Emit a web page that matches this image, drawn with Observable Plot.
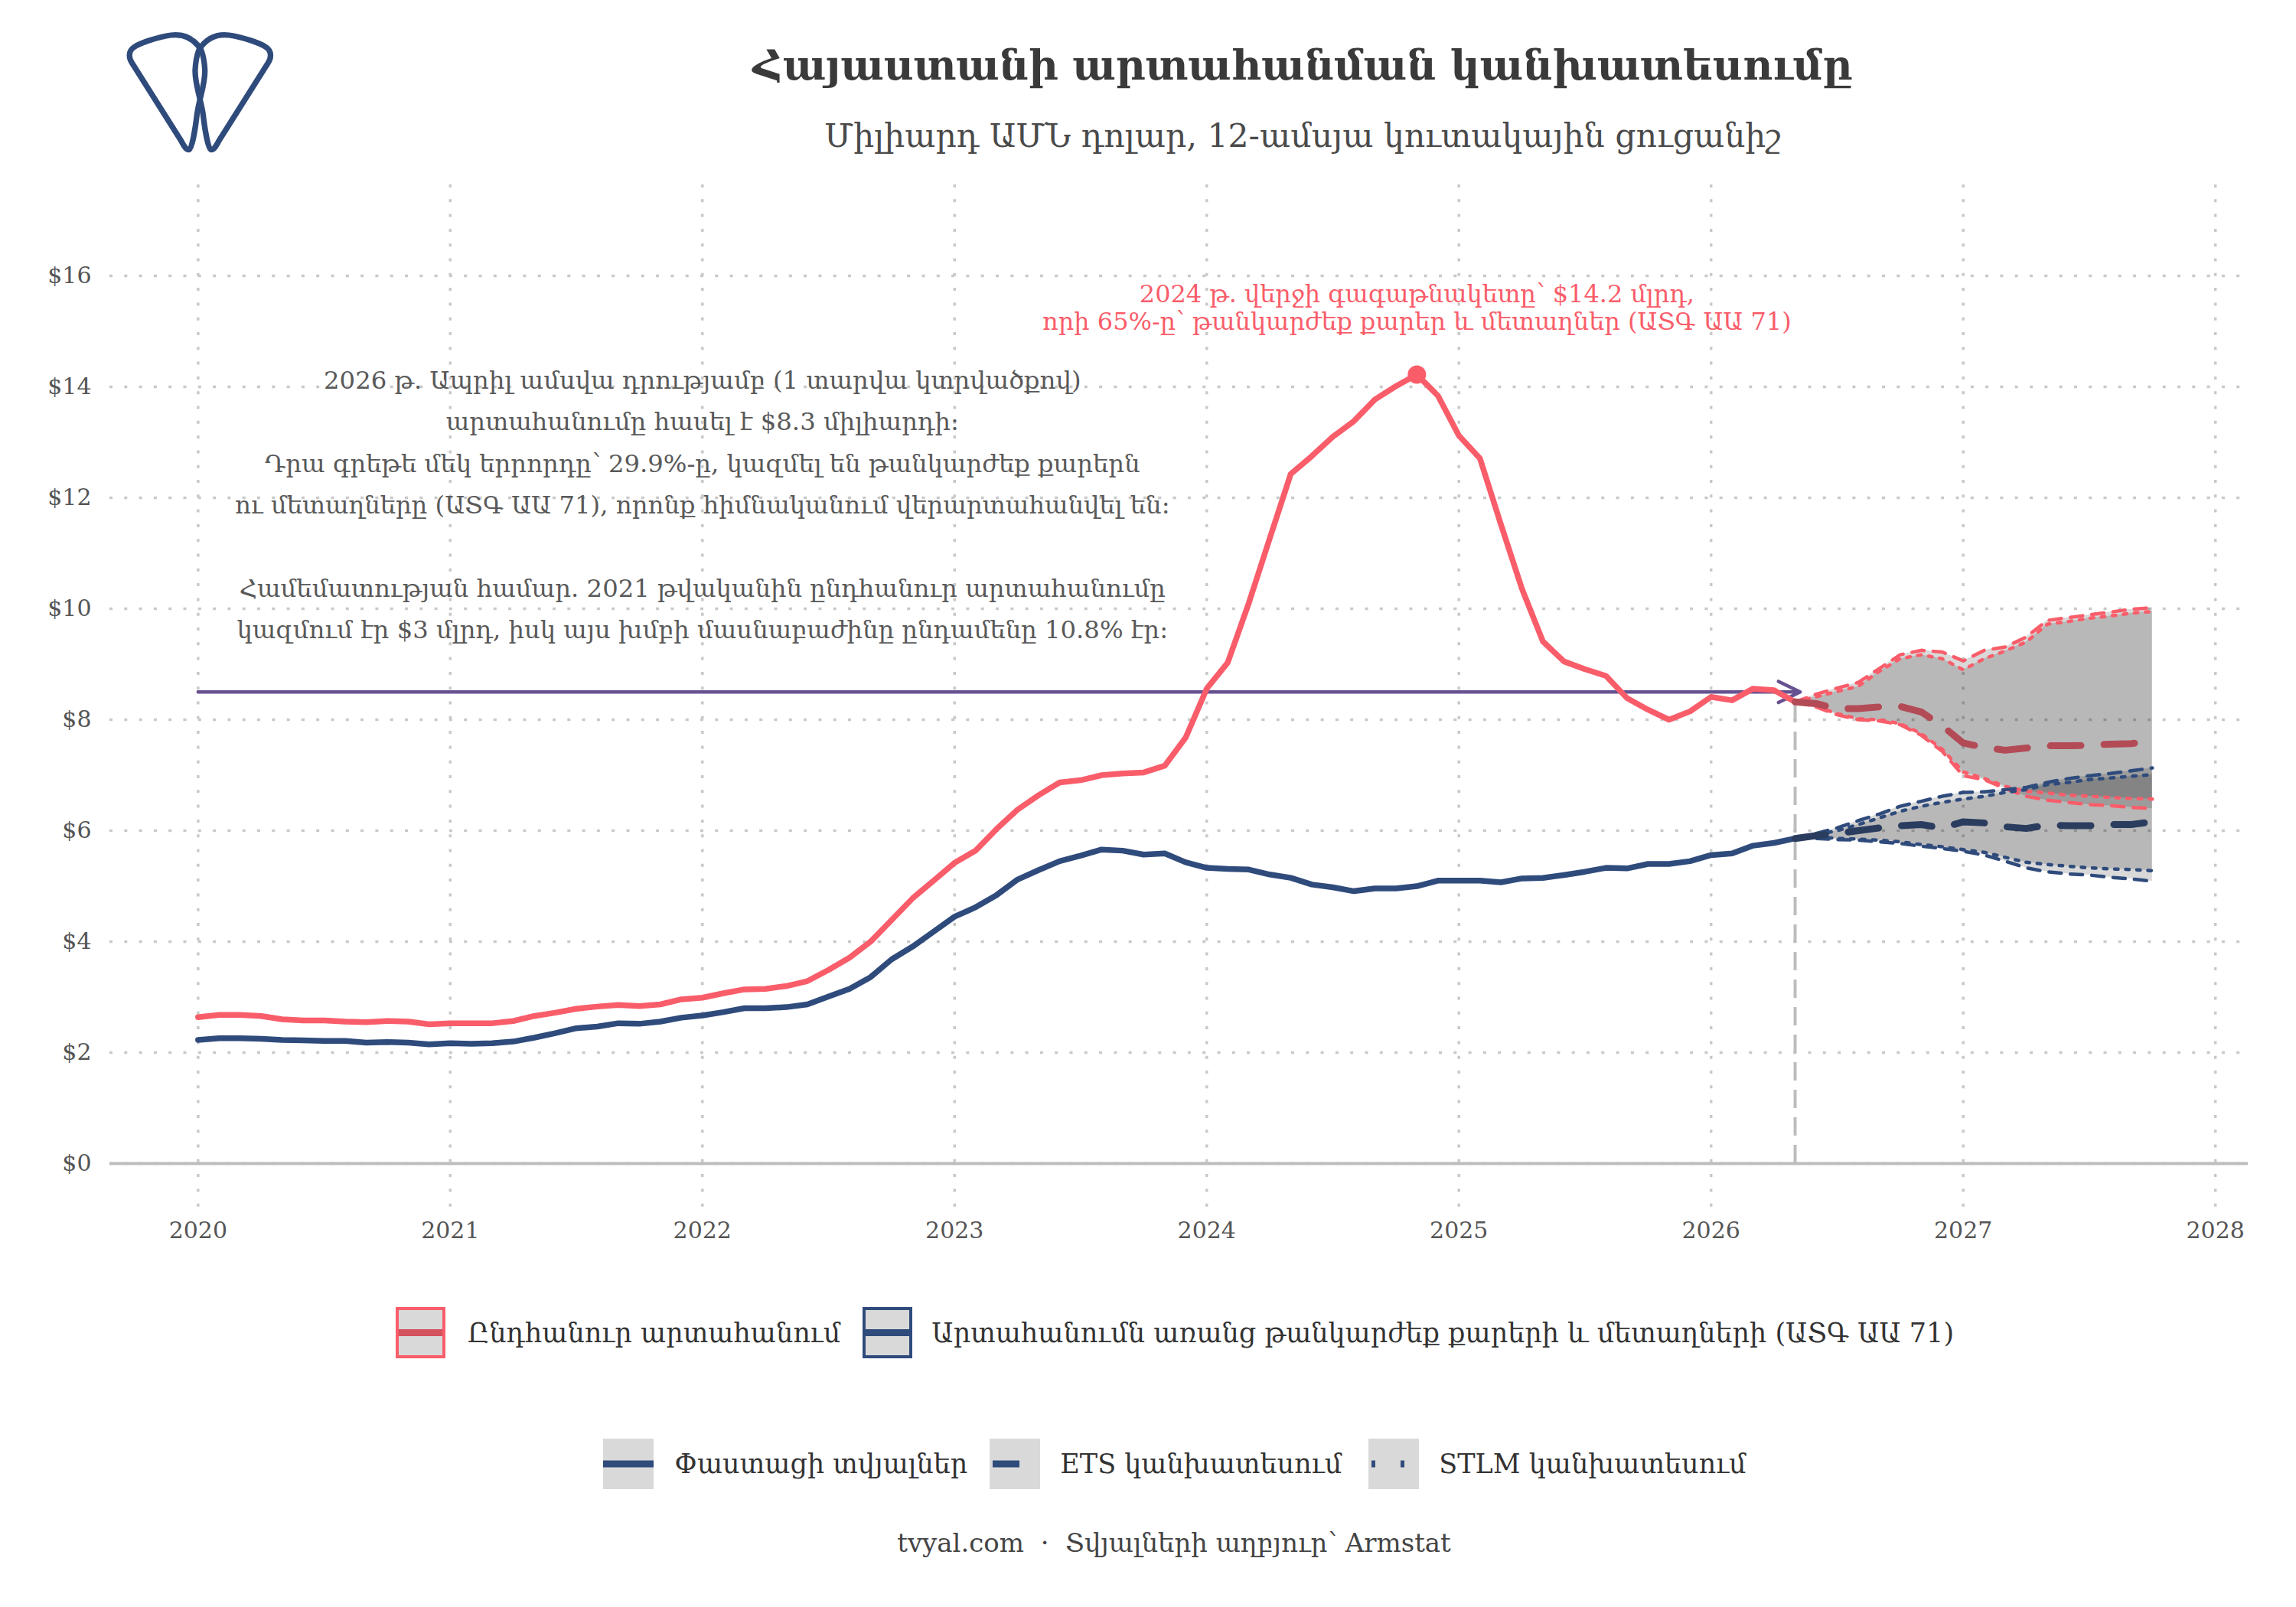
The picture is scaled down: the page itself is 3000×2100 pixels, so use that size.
<!DOCTYPE html>
<html>
<head>
<meta charset="utf-8">
<script src="https://cdn.jsdelivr.net/npm/d3@7"></script>
<script src="https://cdn.jsdelivr.net/npm/@observablehq/plot@0.6"></script>
<style>
  html, body { margin: 0; padding: 0; background: #fff; }
  #page { position: relative; width: 3000px; height: 2100px; overflow: hidden; background: #fff; font-family: "DejaVu Serif", serif; }
  #chart { position: absolute; left: 0; top: 0; }
  .abs { position: absolute; white-space: pre; }
  #title { left: 1702px; top: 50px; transform: translateX(-50%); font-size: 53.5px; font-weight: bold; color: #3a3a3a; line-height: 72px; }
  #subtitle { left: 1702px; top: 150px; transform: translateX(-50%); font-size: 42.5px; color: #4a4a4a; line-height: 56px; }
  .legrow { position: absolute; left: 35px; width: 3000px; display: flex; justify-content: center; align-items: center; }
  .legrow .lab { font-size: 35px; color: #333; white-space: pre; }
  #caption { left: 1534px; top: 1993px; transform: translateX(-50%); font-size: 34px; color: #444; line-height: 46px; }
  svg.key { display: block; }
</style>
</head>
<body>
<div id="page">
  <div id="chart"></div>
  <svg class="abs" style="left:140px;top:20px" width="260" height="200" viewBox="0 0 260 200">
    <g fill="none" stroke="#2f4b7c" stroke-width="7.3" stroke-linejoin="round">
      <path id="lp" d="M122.7,45 C113.3,30 100,24 83.3,26 C66.7,28.3 43.3,36 35,41.7 C27.3,46.7 28.3,56 32.3,62 L96.7,164 C100.7,171.7 104,176.7 107.3,175.3 C110.7,173.3 115,150 117.3,130 C120,110 128.3,90 127.7,71.7 C127,56.7 124,48.3 122.7,45 Z"/>
      <use href="#lp" transform="translate(242.7,0) scale(-1,1)"/>
    </g>
  </svg>
  <div id="title" class="abs"></div>
  <div id="subtitle" class="abs"></div>
  <div id="leg1" class="legrow" style="top:1708px;height:67px"></div>
  <div id="leg2" class="legrow" style="top:1880px;height:66px"></div>
  <div id="caption" class="abs"></div>
</div>
<script>
// ---------------- DATA ----------------
const titleText = "Հայաստանի արտահանման կանխատեսումը";
const subtitleText = "Միլիարդ ԱՄՆ դոլար, 12-ամսյա կուտակային ցուցանիշ";
const captionText = "tvyal.com  ·  Տվյալների աղբյուր՝ Armstat";

const startYear = 2020; // first monthly observation: Jan 2020
// Total exports, 12-month rolling sum, bn USD (monthly, Jan 2020 .. 2026 latest)
const actualTotal = [
  2.64,2.68,2.68,2.66,2.60,2.58,2.58,2.56,2.55,2.57,2.56,2.51,
  2.53,2.53,2.53,2.57,2.66,2.72,2.79,2.83,2.86,2.84,2.87,2.96,
  2.99,3.07,3.14,3.15,3.20,3.29,3.49,3.71,4.00,4.39,4.78,5.10,
  5.42,5.64,6.03,6.38,6.64,6.87,6.91,7.00,7.03,7.05,7.17,7.68,
  8.56,9.03,10.10,11.27,12.43,12.75,13.10,13.38,13.77,14.01,14.22,13.84,
  13.12,12.71,11.52,10.36,9.41,9.05,8.91,8.79,8.39,8.18,8.00,8.15,
  8.41,8.35,8.56,8.53,8.32
];
// Exports excluding precious stones & metals (HS 71)
const actualCore = [
  2.23,2.26,2.26,2.25,2.23,2.22,2.21,2.21,2.18,2.19,2.18,2.15,
  2.17,2.16,2.17,2.20,2.27,2.35,2.44,2.47,2.53,2.52,2.56,2.63,
  2.67,2.73,2.80,2.80,2.82,2.87,3.01,3.15,3.36,3.68,3.91,4.18,
  4.45,4.62,4.84,5.12,5.29,5.45,5.55,5.66,5.64,5.57,5.59,5.43,
  5.33,5.31,5.30,5.21,5.15,5.03,4.98,4.91,4.96,4.96,5.00,5.10,
  5.10,5.10,5.07,5.14,5.15,5.20,5.26,5.33,5.32,5.40,5.40,5.45,
  5.56,5.59,5.73,5.78,5.86
];
// Forecasts (first value = last observation), monthly
const fcTotalEts     = [8.32,8.29,8.20,8.20,8.23,8.24,8.14,7.89,7.58,7.50,7.45,7.49,7.53,7.53,7.54,7.56,7.57,7.61];
const fcTotalEtsLo   = [8.32,8.23,8.09,8.00,7.98,7.91,7.72,7.43,6.99,6.92,6.76,6.62,6.55,6.51,6.47,6.45,6.42,6.40];
const fcTotalEtsHi   = [8.32,8.46,8.57,8.67,8.92,9.17,9.25,9.22,9.06,9.25,9.31,9.49,9.79,9.84,9.89,9.94,9.99,10.02];
const fcTotalStlmLo  = [8.32,8.24,8.11,8.02,8.00,7.93,7.75,7.47,7.06,6.94,6.80,6.71,6.68,6.64,6.62,6.60,6.58,6.57];
const fcTotalStlmHi  = [8.32,8.41,8.51,8.60,8.87,9.10,9.17,9.10,8.90,9.10,9.24,9.40,9.72,9.77,9.83,9.87,9.92,9.95];
const fcCoreEts      = [5.86,5.91,5.95,6.00,6.05,6.09,6.11,6.05,6.16,6.14,6.07,6.04,6.10,6.09,6.09,6.11,6.11,6.16];
const fcCoreEtsLo    = [5.86,5.86,5.84,5.83,5.80,5.77,5.72,5.68,5.63,5.56,5.45,5.33,5.26,5.22,5.20,5.16,5.13,5.09];
const fcCoreEtsHi    = [5.86,5.95,6.05,6.18,6.30,6.44,6.53,6.62,6.69,6.70,6.74,6.78,6.87,6.94,6.99,7.03,7.08,7.13];
const fcCoreStlmLo   = [5.86,5.89,5.86,5.85,5.83,5.80,5.75,5.71,5.66,5.61,5.52,5.43,5.39,5.36,5.33,5.31,5.30,5.28];
const fcCoreStlmHi   = [5.86,5.93,6.00,6.11,6.23,6.35,6.44,6.51,6.57,6.62,6.69,6.74,6.83,6.87,6.92,6.95,6.98,7.01];

const referenceLevel = 8.5; // purple arrow level
const xTicks = [2020, 2021, 2022, 2023, 2024, 2025, 2026, 2027, 2028];
const yTicks = [0, 2, 4, 6, 8, 10, 12, 14, 16];

const seriesNames = ["Ընդհանուր արտահանում", "Արտահանումն առանց թանկարժեք քարերի և մետաղների (ԱՏԳ ԱԱ 71)"];
const lineTypeNames = ["Փաստացի տվյալներ", "ETS կանխատեսում", "STLM կանխատեսում"];

const noteText = "2026 թ. Ապրիլ ամսվա դրությամբ (1 տարվա կտրվածքով)\nարտահանումը հասել է $8.3 միլիարդի:\nԴրա գրեթե մեկ երրորդը՝ 29.9%-ը, կազմել են թանկարժեք քարերն\nու մետաղները (ԱՏԳ ԱԱ 71), որոնք հիմնականում վերարտահանվել են:\n\nՀամեմատության համար. 2021 թվականին ընդհանուր արտահանումը\nկազմում էր $3 մլրդ, իսկ այս խմբի մասնաբաժինը ընդամենը 10.8% էր:";
const noteX = 2022, noteY = 9.47;
const peakText = "2024 թ. վերջի գագաթնակետը՝ $14.2 մլրդ,\nորի 65%-ը՝ թանկարժեք քարեր և մետաղներ (ԱՏԳ ԱԱ 71)";
const peakTextY = 15.03;

// ---------------- BUILD ----------------
const RED = "#f95d6a", NAVY = "#2f4b7c", PURPLE = "#665191";
const RED_DARK = "#b34b57", NAVY_DARK = "#2b3d5e";

const monthX = i => startYear + i / 12;
const actual = actualTotal.map((v, i) => ({x: monthX(i), total: v, core: actualCore[i]}));
const lastIdx = actualTotal.length - 1;
const lastX = monthX(lastIdx);
const mkFc = (mean, lo, hi, slo, shi) => mean.map((m, k) => ({x: lastX + k / 12, mean: m, etsLo: lo[k], etsHi: hi[k], stlmLo: slo[k], stlmHi: shi[k]}));
const fcTotal = mkFc(fcTotalEts, fcTotalEtsLo, fcTotalEtsHi, fcTotalStlmLo, fcTotalStlmHi);
const fcCore = mkFc(fcCoreEts, fcCoreEtsLo, fcCoreEtsHi, fcCoreStlmLo, fcCoreStlmHi);
const peakI = d3.maxIndex(actualTotal);
const peak = {x: monthX(peakI), y: actualTotal[peakI]};

const grid = {stroke: "#c9c9c9", strokeOpacity: 1, strokeWidth: 3.5, strokeDasharray: "4,15.3"};
const ribbon = {fill: "#000", fillOpacity: 0.15};
const dashed = {strokeWidth: 4.5, strokeDasharray: "16,12"};
const dotted = {strokeWidth: 4.5, strokeDasharray: "4.5,10"};

const chart = Plot.plot({
  width: 3000,
  height: 1660,
  marginTop: 241,
  marginBottom: 79,
  marginLeft: 143,
  marginRight: 63,
  style: {fontFamily: "DejaVu Serif", background: "transparent"},
  x: {domain: [2019.65, 2028.13]},
  y: {domain: [-0.84, 17.64]},
  marks: [
    Plot.gridX(xTicks, grid),
    Plot.gridY(yTicks, grid),
    Plot.ruleY([0], {stroke: "#bdbdbd", strokeWidth: 4}),
    Plot.ruleX([{x: lastX, y2: actualTotal[lastIdx]}], {x: "x", y1: 0, y2: "y2", stroke: "#bdbdbd", strokeWidth: 4, strokeDasharray: "24,12"}),
    Plot.areaY(fcTotal, {x: "x", y1: "etsLo", y2: "etsHi", ...ribbon}),
    Plot.areaY(fcTotal, {x: "x", y1: "stlmLo", y2: "stlmHi", ...ribbon}),
    Plot.areaY(fcCore, {x: "x", y1: "etsLo", y2: "etsHi", ...ribbon}),
    Plot.areaY(fcCore, {x: "x", y1: "stlmLo", y2: "stlmHi", ...ribbon}),
    Plot.arrow([{x1: startYear, x2: lastX + 0.02, y: referenceLevel}], {x1: "x1", x2: "x2", y1: "y", y2: "y", stroke: PURPLE, strokeWidth: 4.5, headLength: 10.5, headAngle: 52}),
    Plot.line(actual, {x: "x", y: "total", stroke: RED, strokeWidth: 7.5}),
    Plot.line(actual, {x: "x", y: "core", stroke: NAVY, strokeWidth: 7.5}),
    Plot.line(fcTotal, {x: "x", y: "etsHi", stroke: RED, ...dashed}),
    Plot.line(fcTotal, {x: "x", y: "etsLo", stroke: RED, ...dashed}),
    Plot.line(fcTotal, {x: "x", y: "stlmHi", stroke: RED, ...dotted}),
    Plot.line(fcTotal, {x: "x", y: "stlmLo", stroke: RED, ...dotted}),
    Plot.line(fcCore, {x: "x", y: "etsHi", stroke: NAVY, ...dashed}),
    Plot.line(fcCore, {x: "x", y: "etsLo", stroke: NAVY, ...dashed}),
    Plot.line(fcCore, {x: "x", y: "stlmHi", stroke: NAVY, ...dotted}),
    Plot.line(fcCore, {x: "x", y: "stlmLo", stroke: NAVY, ...dotted}),
    Plot.line(fcTotal, {x: "x", y: "mean", stroke: RED_DARK, strokeWidth: 9, strokeDasharray: "40,30"}),
    Plot.line(fcCore, {x: "x", y: "mean", stroke: NAVY_DARK, strokeWidth: 9, strokeDasharray: "40,30"}),
    Plot.dot([peak], {x: "x", y: "y", r: 12, fill: RED}),
    Plot.text([noteText], {x: noteX, y: noteY, text: d => d, lineAnchor: "bottom", lineHeight: 54.3 / 32.3, fontSize: 32.3, fill: "#595959", textAnchor: "middle"}),
    Plot.text([peakText], {x: peak.x, y: peakTextY, text: d => d, lineAnchor: "bottom", lineHeight: 36 / 32, fontSize: 32, fill: RED, textAnchor: "middle"}),
    Plot.axisY(yTicks, {tickSize: 0, tickPadding: 24, tickFormat: d => `$${d}`, fontSize: 30, fill: "#555", label: null}),
    Plot.axisX(xTicks, {tickSize: 0, tickPadding: 15, tickFormat: d => String(d), fontSize: 30, fill: "#555", label: null})
  ]
});
document.getElementById("chart").appendChild(chart);

document.getElementById("title").textContent = titleText;
document.getElementById("subtitle").textContent = subtitleText;
document.getElementById("caption").textContent = captionText;

// legends
function key1(color, band) {
  return `<svg class="key" width="65" height="67"><rect x="2" y="2" width="61" height="63" fill="#d9d9d9" stroke="${color}" stroke-width="4"/><line x1="4" x2="61" y1="33.5" y2="33.5" stroke="${band}" stroke-width="9"/></svg>`;
}
function key2(kind) {
  let inner = "";
  if (kind === 0) inner = `<line x1="0" x2="66" y1="33" y2="33" stroke="${NAVY}" stroke-width="9"/>`;
  if (kind === 1) inner = `<line x1="4" x2="39" y1="33" y2="33" stroke="${NAVY}" stroke-width="9"/>`;
  if (kind === 2) inner = `<line x1="4" x2="9" y1="33" y2="33" stroke="${NAVY}" stroke-width="9"/><line x1="42" x2="47" y1="33" y2="33" stroke="${NAVY}" stroke-width="9"/>`;
  return `<svg class="key" width="66" height="66"><rect x="0" y="0" width="66" height="66" fill="#d9d9d9"/>${inner}</svg>`;
}
const leg1 = document.getElementById("leg1");
leg1.innerHTML =
  key1(RED, "#d4525e") + `<span class="lab" style="margin:0 29px 0 29px">${seriesNames[0]}</span>` +
  key1(NAVY, NAVY) + `<span class="lab" style="margin-left:25px">${seriesNames[1]}</span>`;
const leg2 = document.getElementById("leg2");
leg2.innerHTML =
  key2(0) + `<span class="lab" style="margin:0 29px 0 27px">${lineTypeNames[0]}</span>` +
  key2(1) + `<span class="lab" style="margin:0 35px 0 26px">${lineTypeNames[1]}</span>` +
  key2(2) + `<span class="lab" style="margin-left:26px">${lineTypeNames[2]}</span>`;
</script>
</body>
</html>
